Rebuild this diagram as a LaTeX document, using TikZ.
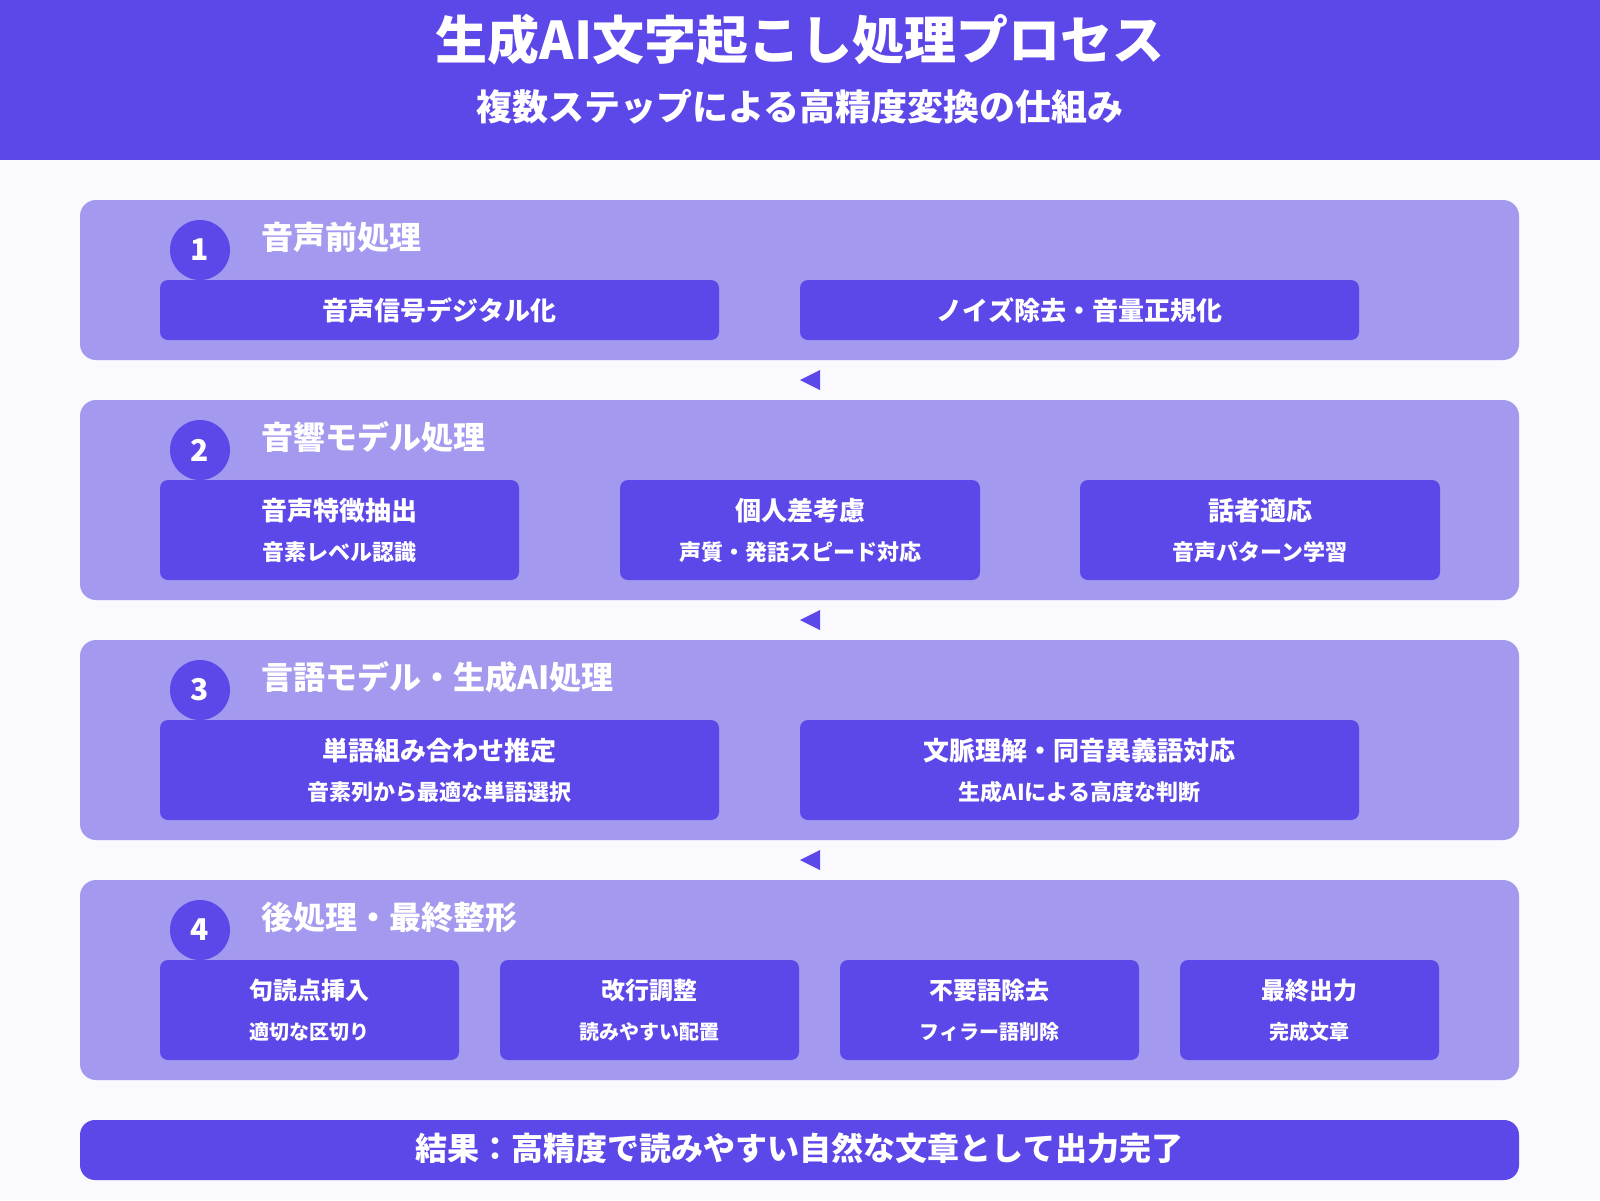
\documentclass[tikz,border=0pt]{standalone}
\usepackage{fontspec}
\setmainfont{Noto Sans CJK JP}
\definecolor{mainc}{RGB}{92,71,233}
\definecolor{panelc}{RGB}{163,153,239}
\definecolor{bgc}{RGB}{249,249,254}
\newcommand{\fs}[1]{\fontsize{#1}{#1}\selectfont}
\tikzset{
  panel/.style={fill=panelc, rounded corners=16pt, minimum width=1439pt, inner sep=0pt},
  stepbox/.style={fill=mainc, rounded corners=8pt, inner sep=0pt},
  numc/.style={circle, fill=mainc, minimum size=60pt, inner sep=0pt, text=white, font=\fs{30}\bfseries},
  ptitle/.style={anchor=west, inner sep=0pt, text=white, font=\fs{32}\bfseries},
  mtext/.style={inner sep=0pt, text=white, font=\fs{26}\bfseries},
  stext/.style={inner sep=0pt, text=white, font=\fs{22}\bfseries},
  mtexts/.style={inner sep=0pt, text=white, font=\fs{24}\bfseries},
  stexts/.style={inner sep=0pt, text=white, font=\fs{20}\bfseries},
  tri/.style={fill=mainc},
}
\begin{document}
\begin{tikzpicture}[x=1pt,y=-1pt]
\useasboundingbox (0,0) rectangle (1600,1200);
\fill[bgc] (0,0) rectangle (1600,1200);
% header
\node[fill=mainc, minimum width=1600pt, minimum height=160pt, inner sep=0pt] (hdr) at (800,80) {};
\node[inner sep=0pt, text=white, font=\fs{52}\bfseries] (title) at (800,40) {生成AI文字起こし処理プロセス};
\node[inner sep=0pt, text=white, font=\fs{36}\bfseries] (subtitle) at (800,107) {複数ステップによる高精度変換の仕組み};

% panel 1
\node[panel, minimum height=160pt] (p1) at (799.5,280) {};
\node[numc] (c1) at (200,250) {1};
\node[ptitle] (t1) at (261,237) {音声前処理};
\node[stepbox, minimum width=559pt, minimum height=60pt] (b11) at (439.5,310) {};
\node[mtext] at (b11.center) {音声信号デジタル化};
\node[stepbox, minimum width=559pt, minimum height=60pt] (b12) at (1079.5,310) {};
\node[mtext] at (b12.center) {ノイズ除去・音量正規化};

% arrow 1
\coordinate (a1) at (800,380);
\fill[tri] (a1) -- ++(20,-10) -- ++(0,20) -- cycle;

% panel 2
\node[panel, minimum height=200pt] (p2) at (799.5,500) {};
\node[numc] (c2) at (200,450) {2};
\node[ptitle] (t2) at (261,437) {音響モデル処理};
\node[stepbox, minimum width=359pt, minimum height=100pt] (b21) at (339.5,530) {};
\node[mtext] at ([yshift=-31pt]b21.north) {音声特徴抽出};
\node[stext] at ([yshift=-72pt]b21.north) {音素レベル認識};
\node[stepbox, minimum width=360pt, minimum height=100pt] (b22) at (800,530) {};
\node[mtext] at ([yshift=-31pt]b22.north) {個人差考慮};
\node[stext] at ([yshift=-72pt]b22.north) {声質・発話スピード対応};
\node[stepbox, minimum width=360pt, minimum height=100pt] (b23) at (1260,530) {};
\node[mtext] at ([yshift=-31pt]b23.north) {話者適応};
\node[stext] at ([yshift=-72pt]b23.north) {音声パターン学習};

% arrow 2
\coordinate (a2) at (800,620);
\fill[tri] (a2) -- ++(20,-10) -- ++(0,20) -- cycle;

% panel 3
\node[panel, minimum height=200pt] (p3) at (799.5,740) {};
\node[numc] (c3) at (200,690) {3};
\node[ptitle] (t3) at (261,677) {言語モデル・生成AI処理};
\node[stepbox, minimum width=559pt, minimum height=100pt] (b31) at (439.5,770) {};
\node[mtext] at ([yshift=-31pt]b31.north) {単語組み合わせ推定};
\node[stext] at ([yshift=-72pt]b31.north) {音素列から最適な単語選択};
\node[stepbox, minimum width=559pt, minimum height=100pt] (b32) at (1079.5,770) {};
\node[mtext] at ([yshift=-31pt]b32.north) {文脈理解・同音異義語対応};
\node[stext] at ([yshift=-72pt]b32.north) {生成AIによる高度な判断};

% arrow 3
\coordinate (a3) at (800,860);
\fill[tri] (a3) -- ++(20,-10) -- ++(0,20) -- cycle;

% panel 4
\node[panel, minimum height=200pt] (p4) at (799.5,980) {};
\node[numc] (c4) at (200,930) {4};
\node[ptitle] (t4) at (261,917) {後処理・最終整形};
\node[stepbox, minimum width=299pt, minimum height=100pt] (b41) at (309.5,1010) {};
\node[mtexts] at ([yshift=-31pt]b41.north) {句読点挿入};
\node[stexts] at ([yshift=-72pt]b41.north) {適切な区切り};
\node[stepbox, minimum width=299pt, minimum height=100pt] (b42) at (649.5,1010) {};
\node[mtexts] at ([yshift=-31pt]b42.north) {改行調整};
\node[stexts] at ([yshift=-72pt]b42.north) {読みやすい配置};
\node[stepbox, minimum width=299pt, minimum height=100pt] (b43) at (989.5,1010) {};
\node[mtexts] at ([yshift=-31pt]b43.north) {不要語除去};
\node[stexts] at ([yshift=-72pt]b43.north) {フィラー語削除};
\node[stepbox, minimum width=259pt, minimum height=100pt] (b44) at (1309.5,1010) {};
\node[mtexts] at ([yshift=-31pt]b44.north) {最終出力};
\node[stexts] at ([yshift=-72pt]b44.north) {完成文章};

% result
\node[fill=mainc, rounded corners=15pt, minimum width=1439pt, minimum height=60pt, inner sep=0pt] (res) at (799.5,1150) {};
\node[inner sep=0pt, text=white, font=\fs{32}\bfseries] at ([yshift=2pt]res.center) {結果：高精度で読みやすい自然な文章として出力完了};
\end{tikzpicture}
\end{document}
